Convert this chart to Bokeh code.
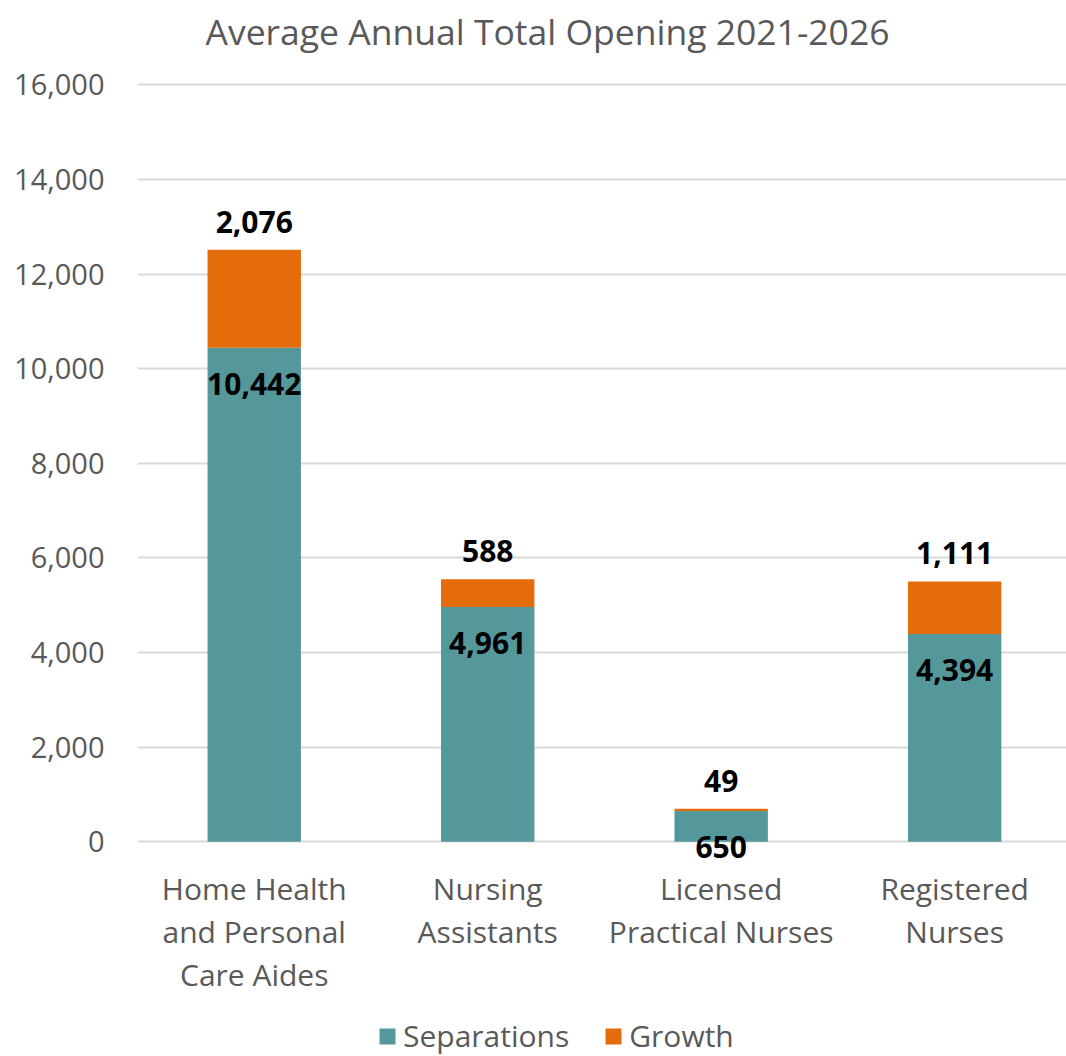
from bokeh.plotting import figure
from bokeh.models import ColumnDataSource, Range1d, FixedTicker, NumeralTickFormatter, LabelSet, Legend
from bokeh.core.properties import value
from bokeh.embed import file_html
from bokeh.resources import INLINE

categories = ["Home Health\nand Personal\nCare Aides", "Nursing\nAssistants", "Licensed\nPractical Nurses", "Registered\nNurses"]
separations = [10442, 4961, 650, 4394]
growth = [2076, 588, 49, 1111]
y_ticks = [0, 2000, 4000, 6000, 8000, 10000, 12000, 14000, 16000]

TEAL = "#55989B"
ORANGE = "#E46C0A"
GRAY = "#595959"
FONT = "Open Sans"
BOLD_FONT = "Noto Sans"

xs = list(range(len(categories)))
totals = [s + g for s, g in zip(separations, growth)]
cat_lines = [c.split("\n") for c in categories]
n_lines = max(len(l) for l in cat_lines)
data = dict(
    x=xs, Separations=separations, Growth=growth, total=totals, base=[0] * len(xs),
    sep_lbl=[f"{v:,}" for v in separations],
    gro_lbl=[f"{v:,}" for v in growth],
)
for k in range(n_lines):
    data[f"line{k}"] = [l[k] if k < len(l) else "" for l in cat_lines]
src = ColumnDataSource(data)

p = figure(frame_width=929, frame_height=998, output_backend="svg", toolbar_location=None,
           x_range=Range1d(-0.5, 3.479), y_range=Range1d(-4540, 16560),
           min_border_left=137, min_border_right=0, min_border_top=0, min_border_bottom=0)

p.title.text = "Average Annual Total Opening 2021-2026"
p.title.align = "left"
p.title.offset = 68
p.title.text_font = FONT
p.title.text_font_size = "35.5px"
p.title.text_font_style = "normal"
p.title.text_color = GRAY
p.title.standoff = 8

rs = p.vbar_stack(["Separations", "Growth"], x="x", width=0.40, source=src,
                  color=[TEAL, ORANGE], line_color=None)

p.outline_line_color = None
p.background_fill_color = "white"
p.border_fill_color = "white"

p.yaxis.ticker = FixedTicker(ticks=y_ticks)
p.yaxis.formatter = NumeralTickFormatter(format="0,0")
p.yaxis.axis_line_color = None
p.yaxis.major_tick_line_color = None
p.yaxis.minor_tick_line_color = None
p.yaxis.major_label_standoff = 27
p.yaxis.major_label_text_font = FONT
p.yaxis.major_label_text_font_size = "29px"
p.yaxis.major_label_text_color = GRAY

p.xaxis.visible = False
p.xgrid.grid_line_color = None
p.ygrid.ticker = FixedTicker(ticks=y_ticks)
p.ygrid.grid_line_color = "#D9D9D9"
p.ygrid.grid_line_width = 2

# category labels under the baseline, one centred line at a time
for k in range(n_lines):
    p.add_layout(LabelSet(x="x", y="base", text=f"line{k}", source=src,
                          text_align="center", text_baseline="middle", y_offset=-(47 + 43 * k),
                          text_font=value(FONT), text_font_size=value("30px"),
                          text_color=GRAY))

sep_labels = LabelSet(x="x", y="Separations", text="sep_lbl", source=src,
                      text_align="center", text_baseline="middle", y_offset=-36,
                      text_font=value(BOLD_FONT), text_font_size=value("30px"),
                      text_font_style="bold", text_color="black")
gro_labels = LabelSet(x="x", y="total", text="gro_lbl", source=src,
                      text_align="center", text_baseline="middle", y_offset=28,
                      text_font=value(BOLD_FONT), text_font_size=value("30px"),
                      text_font_style="bold", text_color="black")
p.add_layout(sep_labels)
p.add_layout(gro_labels)

legend = Legend(items=[("Separations", [rs[0]]), ("Growth", [rs[1]])],
                orientation="horizontal", location=(240, 0),
                label_text_font=FONT, label_text_font_size="30px", label_text_color=GRAY,
                glyph_width=20, glyph_height=20, spacing=34, label_standoff=6,
                border_line_color=None, background_fill_alpha=0, padding=0, margin=0)
p.add_layout(legend)

open("out.html", "w").write(file_html(p, INLINE))
